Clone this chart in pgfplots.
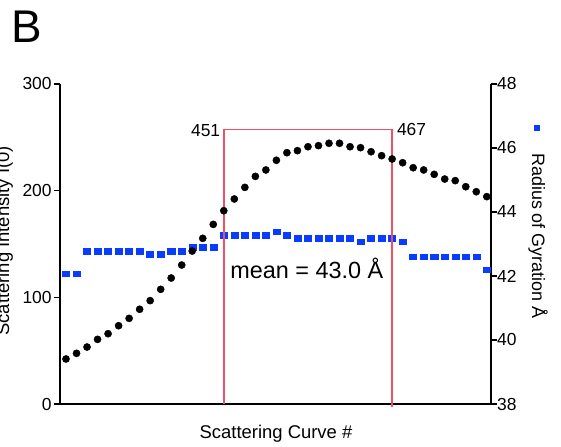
\documentclass[border=0pt]{standalone}
\usepackage{pgfplots}
\pgfplotsset{compat=1.18}
\usepackage{fontspec}
\setmainfont{Liberation Sans}
\definecolor{rgblue}{RGB}{10,60,255}
\definecolor{boxred}{RGB}{238,80,100}
\begin{document}
\begin{tikzpicture}
\pgfplotsset{
  common/.style={
    at={(60bp,43bp)}, anchor=south west, scale only axis,
    width=431bp, height=320bp,
    xmin=435.43, xmax=476.4,
    xtick=\empty,
    axis line style={line width=1.6bp},
    major tick length=5.5bp,
    tick style={line width=1.6bp, black},
    tick align=outside,
    ticklabel style={font=\fontsize{17.5}{20}\selectfont},
    /pgf/number format/assume math mode=true,
    clip=false,
  }
}
% right axis: radius of gyration
\begin{axis}[common, axis x line=none, axis y line*=right,
  ymin=38, ymax=48, ytick={38,40,42,44,46,48},
  yticklabel style={inner sep=0pt, xshift=0.5bp}]
\addplot[only marks, mark=square*, mark size=3.2bp, rgblue,
  mark options={xscale=1.1, yscale=0.85}] coordinates {
(436,42.08) (437,42.08) (438,42.78) (439,42.78) (440,42.78) (441,42.78)
(442,42.78) (443,42.78) (444,42.68) (445,42.68) (446,42.78) (447,42.78)
(448,42.90) (449,42.90) (450,42.90) (451,43.28) (452,43.28) (453,43.28)
(454,43.28) (455,43.28) (456,43.39) (457,43.28) (458,43.18) (459,43.18)
(460,43.18) (461,43.18) (462,43.18) (463,43.18) (464,43.07) (465,43.18)
(466,43.18) (467,43.18) (468,43.07) (469,42.60) (470,42.60) (471,42.60)
(472,42.60) (473,42.60) (474,42.60) (475,42.60) (476,42.19)
};
\end{axis}
% left axis: scattering intensity
\begin{axis}[common, axis x line*=bottom, axis y line*=left,
  ymin=0, ymax=300, ytick={0,100,200,300},
  yticklabel style={inner sep=0pt, xshift=-2.7bp}]
\addplot[draw=boxred, line width=1.5bp, mark=none] coordinates {(451,0) (451,257.5)};
\addplot[draw=boxred, line width=1.5bp, mark=none] coordinates {(451,257.5) (467,257.5)};
\addplot[draw=boxred, line width=1.5bp, mark=none] coordinates {(467,257.5) (467,-3)};
\addplot[only marks, mark=*, mark size=3.6bp, black] coordinates {
(436,42.2) (437,47.5) (438,53.4) (439,60.6) (440,65.9) (441,73.4)
(442,80.3) (443,88.8) (444,96.9) (445,107.5) (446,118.1) (447,130.3)
(448,143.4) (449,155.3) (450,168.4) (451,181.2) (452,192.2) (453,203.1)
(454,213.4) (455,219.4) (456,228.5) (457,235.6) (458,237.5) (459,241.2)
(460,242.2) (461,244.4) (462,244.4) (463,241.2) (464,240.3) (465,236.5)
(466,232.8) (467,229.7) (468,226.2) (469,221.5) (470,219.4) (471,215.3)
(472,210.9) (473,209.4) (474,203.7) (475,199.0) (476,194.4)
};
\node[anchor=east, inner sep=0pt, font=\fontsize{17.5}{20}\selectfont]
  at ([xshift=-3.4bp,yshift=-1.5bp]axis cs:451,257.5) {451};
\node[anchor=west, inner sep=0pt, font=\fontsize{17.5}{20}\selectfont]
  at ([xshift=4.7bp]axis cs:467,257.5) {467};
\node[anchor=base, inner sep=0pt, font=\fontsize{23.5}{27}\selectfont]
  at (axis cs:458.9,117.2) {mean = 43.0 Å};
\end{axis}
\node[anchor=base west, inner sep=0pt, font=\fontsize{46}{50}\selectfont]
  at (11bp,404.3bp) {B};
\node[anchor=base, inner sep=0pt, font=\fontsize{18.5}{22}\selectfont]
  at (276bp,8.7bp) {Scattering Curve \#};
\node[rotate=90, anchor=base east, inner sep=0pt, font=\fontsize{18.5}{22}\selectfont]
  at (9bp,301bp) {Scattering Intensity I(0)};
\node[rotate=-90, anchor=base west, inner sep=0pt, font=\fontsize{18}{22}\selectfont]
  at (532bp,294bp) {Radius of Gyration Å};
\node[fill=rgblue, minimum width=6.6bp, minimum height=6bp, inner sep=0pt]
  at (537bp,319bp) {};
\pgfresetboundingbox
\useasboundingbox (0,0) rectangle (561bp,447bp);
\end{tikzpicture}
\end{document}
